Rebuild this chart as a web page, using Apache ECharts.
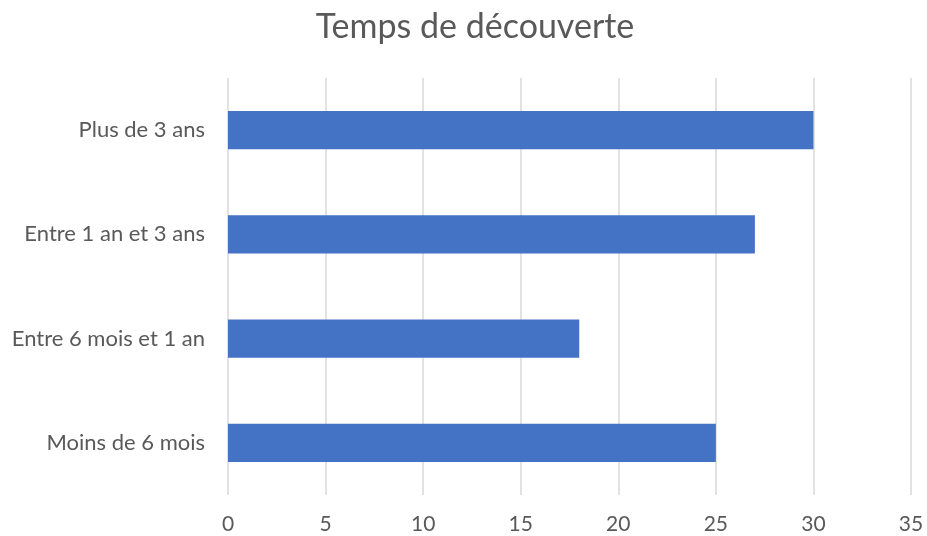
<!DOCTYPE html>
<html>
<head>
<meta charset="utf-8">
<script src="https://cdn.jsdelivr.net/npm/echarts@6/dist/echarts.min.js"></script>
<style>
  html, body { margin: 0; padding: 0; background: #ffffff; }
  #chart { width: 927px; height: 536px; }
</style>
</head>
<body>
<div id="chart"></div>
<script>
// Categories listed bottom to top (category axis on y starts at the bottom)
const categories = ['Moins de 6 mois', 'Entre 6 mois et 1 an', 'Entre 1 an et 3 ans', 'Plus de 3 ans'];
const values = [25, 18, 27, 30];
const xTicks = [0, 5, 10, 15, 20, 25, 30, 35];

const FONT = 'Lato';
const chart = echarts.init(document.getElementById('chart'), null, { renderer: 'canvas' });

chart.setOption({
  animation: false,
  backgroundColor: '#ffffff',
  title: {
    text: 'Temps de découverte',
    left: 470,
    top: 5,
    textAlign: 'center',
    textStyle: { fontFamily: FONT, fontSize: 34, fontWeight: 'normal', color: '#595959' }
  },
  grid: { left: 228, right: 16, top: 78, bottom: 41, containLabel: false },
  xAxis: {
    type: 'value',
    min: xTicks[0],
    max: xTicks[xTicks.length - 1],
    interval: xTicks[1] - xTicks[0],
    axisLine: { show: false },
    axisTick: { show: false },
    splitLine: { show: true, lineStyle: { color: '#d9d9d9', width: 1.5 } },
    axisLabel: { color: '#595959', fontFamily: FONT, fontSize: 21, margin: 19 }
  },
  yAxis: {
    type: 'category',
    data: categories,
    axisLine: { show: false },
    axisTick: { show: false },
    splitLine: { show: false },
    axisLabel: { color: '#595959', fontFamily: FONT, fontSize: 22, margin: 23 }
  },
  series: [{
    type: 'bar',
    data: values,
    barWidth: '36.5%',
    itemStyle: { color: '#4472c4' }
  }]
});
</script>
</body>
</html>
